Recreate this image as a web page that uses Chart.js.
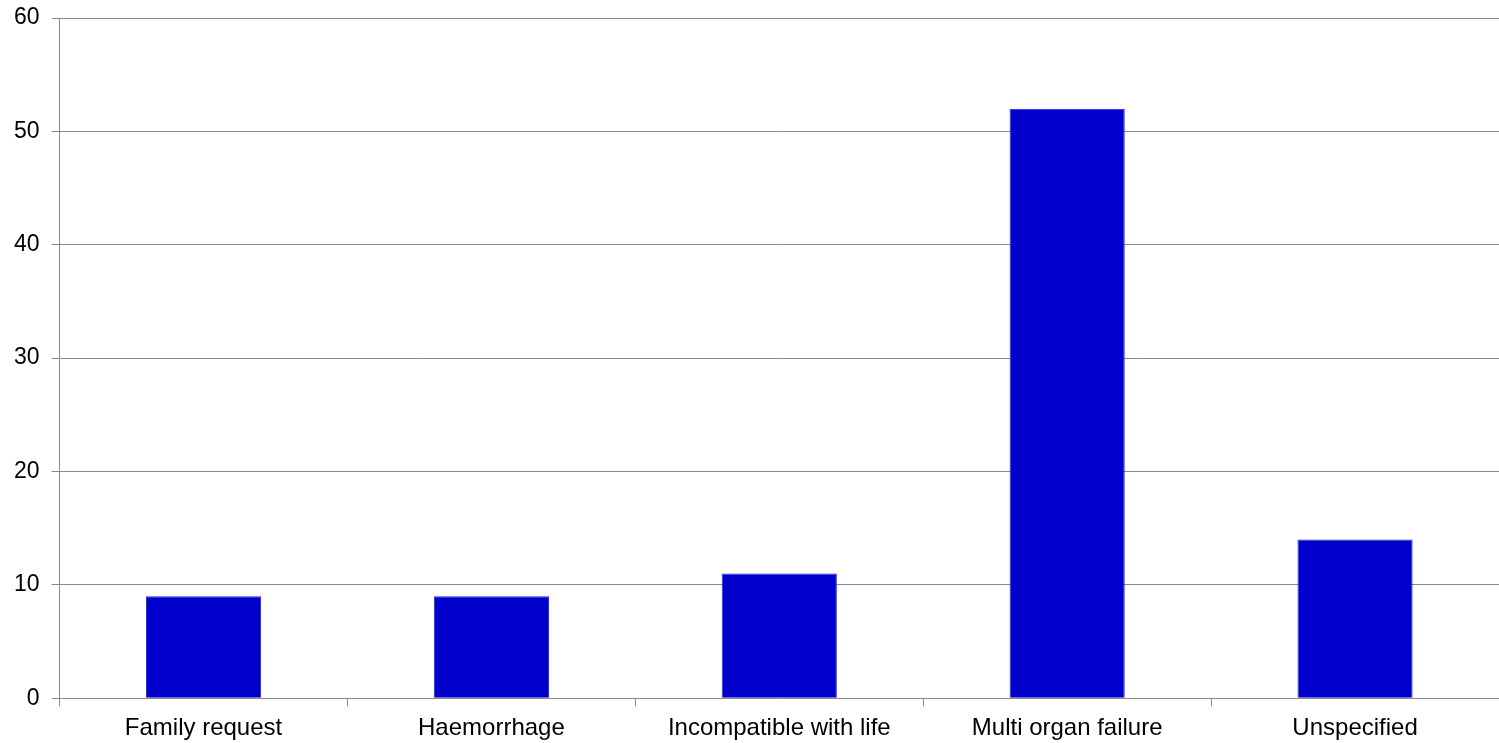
<!DOCTYPE html>
<html>
<head>
<meta charset="utf-8">
<style>
  html, body { margin: 0; padding: 0; background: #ffffff; }
  #wrap { width: 1499px; height: 743px; position: relative; }
</style>
<script src="https://cdn.jsdelivr.net/npm/chart.js@4/dist/chart.umd.min.js"></script>
</head>
<body>
<div id="wrap"><canvas id="chart"></canvas></div>
<script>
const categories = ["Family request", "Haemorrhage", "Incompatible with life", "Multi organ failure", "Unspecified"];
const counts = [9, 9, 11, 52, 14];
const yTicks = [0, 10, 20, 30, 40, 50, 60];

const gridColor = '#8a8a8a';
const fontFamily = '"Liberation Sans", Arial, sans-serif';

// Slightly open letter spacing for all axis text
const spacing = {
  id: 'spacing',
  beforeInit(chart) { chart.ctx.letterSpacing = '0.7px'; }
};

new Chart(document.getElementById('chart'), {
  type: 'bar',
  plugins: [spacing],
  data: {
    labels: categories,
    datasets: [{
      data: counts,
      backgroundColor: '#0000cc',
      borderColor: '#2a2ad6',
      borderWidth: 1,
      barPercentage: 0.4,
      categoryPercentage: 1.0
    }]
  },
  options: {
    responsive: true,
    maintainAspectRatio: false,
    animation: false,
    layout: { padding: { top: 0, right: 0, left: 2, bottom: -8 } },
    plugins: { legend: { display: false }, tooltip: { enabled: false } },
    scales: {
      x: {
        grid: {
          offset: true,
          drawOnChartArea: false,
          drawTicks: true,
          tickLength: 8,
          color: gridColor,
          lineWidth: 1
        },
        border: { display: false },
        ticks: {
          color: '#000000',
          font: { family: fontFamily, size: 24 },
          padding: 8,
          maxRotation: 0,
          autoSkip: false
        }
      },
      y: {
        min: 0,
        max: 60,
        afterBuildTicks: (axis) => { axis.ticks = yTicks.map(v => ({ value: v })); },
        // keep only room for half of the top label above the plot
        afterFit: (axis) => { axis.paddingTop = 18; },
        grid: {
          color: gridColor,
          lineWidth: 1,
          drawTicks: true,
          tickLength: 8
        },
        border: { display: true, color: gridColor, width: 1 },
        ticks: {
          color: '#000000',
          font: { family: fontFamily, size: 23 },
          padding: 12
        }
      }
    }
  }
});
</script>
</body>
</html>
